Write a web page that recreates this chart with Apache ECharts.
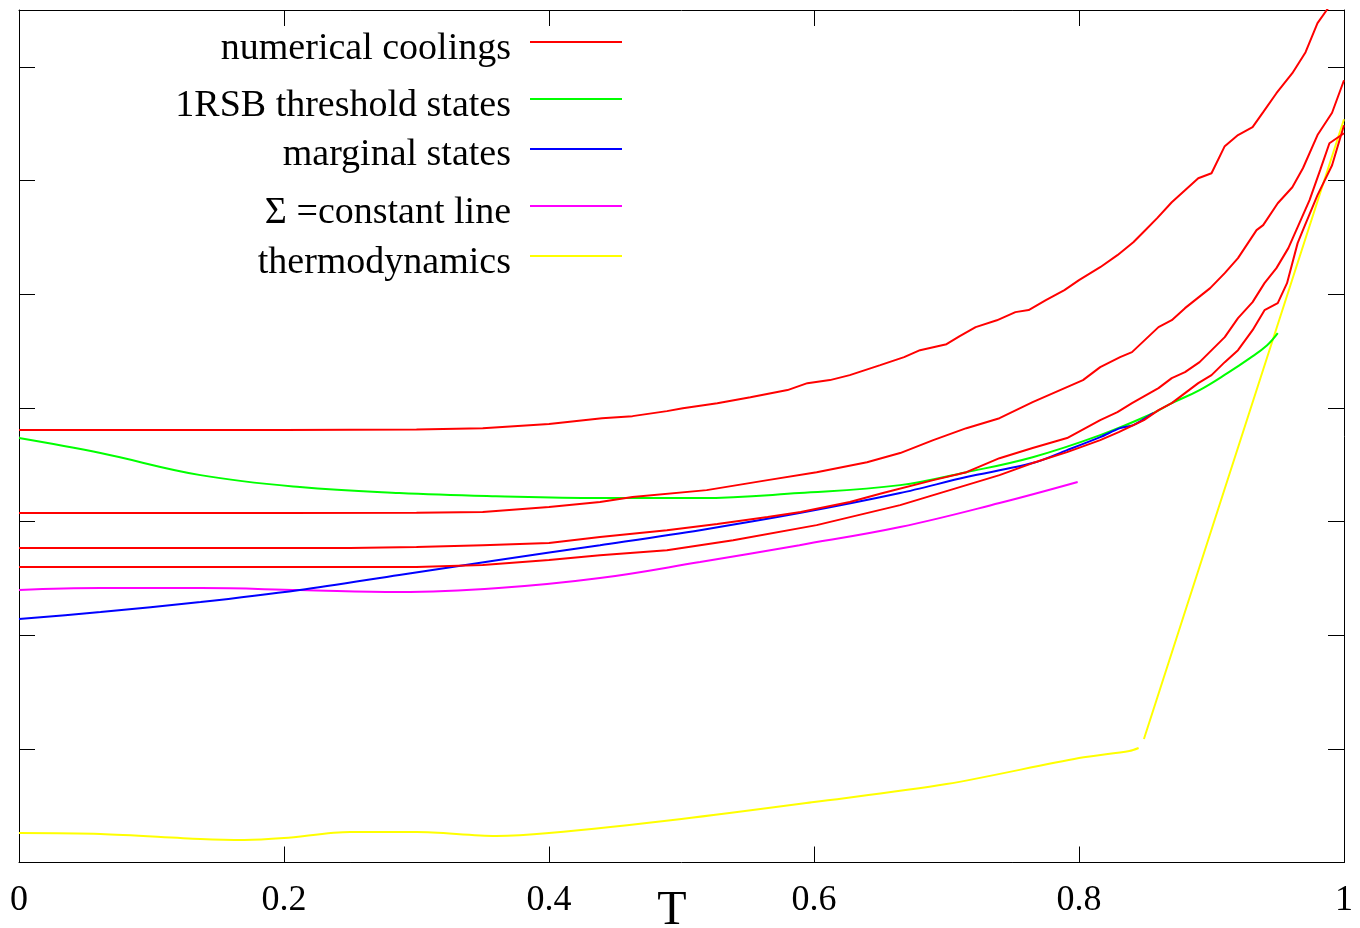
<!DOCTYPE html>
<html>
<head>
<meta charset="utf-8">
<title>Energy vs T</title>
<script src="https://cdn.jsdelivr.net/npm/echarts@6/dist/echarts.min.js"></script>
<style>
  html, body { margin: 0; padding: 0; background: #fff; }
  #chart { width: 1360px; height: 928px; }
</style>
</head>
<body>
<div id="chart"></div>
<script>
// Temperature axis ticks
const tTicks = [0, 0.2, 0.4, 0.6, 0.8, 1];

// Numerical coolings (four runs), [T, E] pairs
const cooling1 = [
  [0, 3.804], [0.1, 3.804], [0.2, 3.804], [0.3, 3.81], [0.35, 3.821], [0.4, 3.857],
  [0.44, 3.909], [0.463, 3.927], [0.489, 3.971], [0.501, 3.997], [0.527, 4.041],
  [0.552, 4.094], [0.58, 4.156], [0.595, 4.217], [0.612, 4.244], [0.627, 4.288],
  [0.65, 4.376], [0.668, 4.446], [0.68, 4.507], [0.70, 4.56], [0.71, 4.631],
  [0.722, 4.71], [0.738, 4.77], [0.752, 4.842], [0.762, 4.86], [0.775, 4.947],
  [0.789, 5.035], [0.80, 5.123], [0.816, 5.237], [0.829, 5.343], [0.841, 5.457],
  [0.85, 5.563], [0.859, 5.669], [0.870, 5.809], [0.880, 5.915], [0.890, 6.020],
  [0.900, 6.064], [0.910, 6.302], [0.920, 6.40], [0.931, 6.47], [0.939, 6.601],
  [0.949, 6.768], [0.961, 6.944], [0.971, 7.129], [0.980, 7.384], [0.987, 7.5], [0.995, 7.62]
];
const cooling2 = [
  [0, 3.074], [0.2, 3.074], [0.3, 3.078], [0.35, 3.083], [0.4, 3.127], [0.4385, 3.171],
  [0.463, 3.215], [0.519, 3.276], [0.565, 3.364], [0.602, 3.434], [0.640, 3.522],
  [0.665, 3.602], [0.690, 3.716], [0.715, 3.821], [0.740, 3.909], [0.765, 4.050],
  [0.803, 4.244], [0.816, 4.358], [0.831, 4.446], [0.840, 4.490], [0.860, 4.710],
  [0.870, 4.771], [0.880, 4.877], [0.899, 5.053], [0.910, 5.185], [0.920, 5.317],
  [0.934, 5.563], [0.939, 5.607], [0.950, 5.800], [0.961, 5.941], [0.969, 6.108],
  [0.980, 6.40], [0.991, 6.596], [1.0, 6.882]
];
const cooling3 = [
  [0, 2.766], [0.25, 2.766], [0.3, 2.775], [0.35, 2.792], [0.4, 2.810], [0.4385, 2.863],
  [0.489, 2.924], [0.527, 2.977], [0.565, 3.039], [0.590, 3.083], [0.627, 3.171],
  [0.652, 3.250], [0.690, 3.364], [0.715, 3.434], [0.740, 3.557], [0.765, 3.646],
  [0.791, 3.734], [0.816, 3.892], [0.829, 3.962], [0.840, 4.041], [0.860, 4.173],
  [0.870, 4.261], [0.880, 4.314], [0.891, 4.402], [0.910, 4.622], [0.920, 4.789],
  [0.931, 4.930], [0.940, 5.097], [0.949, 5.229], [0.958, 5.405], [0.964, 5.563],
  [0.974, 5.827], [0.982, 6.091], [0.989, 6.328], [1.0, 6.416]
];
const cooling4 = [
  [0, 2.599], [0.3, 2.599], [0.35, 2.617], [0.4, 2.661], [0.4385, 2.704], [0.489, 2.748],
  [0.539, 2.836], [0.602, 2.968], [0.665, 3.144], [0.690, 3.232], [0.715, 3.320],
  [0.740, 3.408], [0.765, 3.514], [0.791, 3.610], [0.816, 3.716], [0.830, 3.786],
  [0.849, 3.892], [0.860, 3.980], [0.870, 4.041], [0.880, 4.129], [0.890, 4.217],
  [0.900, 4.288], [0.910, 4.402], [0.920, 4.507], [0.931, 4.683], [0.940, 4.859],
  [0.950, 4.921], [0.957, 5.097], [0.965, 5.449], [0.969, 5.563], [0.980, 5.871],
  [0.991, 6.134], [1.0, 6.486]
];

// 1RSB threshold states
const threshold = [
  [0, 3.734], [0.0615, 3.602], [0.137, 3.408], [0.212, 3.303], [0.287, 3.250],
  [0.36, 3.222], [0.4385, 3.206], [0.514, 3.206], [0.589, 3.250], [0.665, 3.320],
  [0.715, 3.434], [0.765, 3.566], [0.816, 3.760], [0.856, 3.953], [0.870, 4.041],
  [0.891, 4.156], [0.912, 4.305], [0.929, 4.437], [0.942, 4.551], [0.950, 4.657]
];

// Marginal states
const marginal = [
  [0, 2.142], [0.0615, 2.203], [0.137, 2.291], [0.212, 2.397], [0.287, 2.529],
  [0.362, 2.661], [0.4385, 2.792], [0.514, 2.924], [0.589, 3.074], [0.665, 3.250],
  [0.715, 3.391], [0.765, 3.514], [0.791, 3.628], [0.816, 3.742], [0.831, 3.821],
  [0.841, 3.848], [0.856, 3.953]
];

// Sigma = constant line
const sigmaConst = [
  [0, 2.397], [0.0615, 2.414], [0.137, 2.414], [0.212, 2.397], [0.287, 2.379],
  [0.362, 2.414], [0.4385, 2.502], [0.514, 2.643], [0.589, 2.792], [0.665, 2.951],
  [0.740, 3.162], [0.799, 3.347]
];

// Thermodynamics (two branches, separated by a gap)
const thermo = [
  [0, 0.259], [0.0615, 0.251], [0.137, 0.207], [0.17, 0.198], [0.2, 0.215],
  [0.25, 0.268], [0.3, 0.268], [0.36, 0.233], [0.4, 0.259], [0.5, 0.383],
  [0.6, 0.532], [0.7, 0.690], [0.8, 0.919], [0.838, 0.981], [0.845, 1.007],
  [0.847, null],
  [0.849, 1.086], [1.0, 6.539]
];

const legendRows = [
  { text: 'numerical coolings', color: '#ff0000', y: 42, ty: 49 },
  { text: '1RSB threshold states', color: '#00ff00', y: 99, ty: 106 },
  { text: 'marginal states', color: '#0000ff', y: 149, ty: 155 },
  { text: '\u03A3 =constant line', color: '#ff00ff', y: 206, ty: 213 },
  { text: 'thermodynamics', color: '#ffff00', y: 256, ty: 263 }
];

const FONT = "'Liberation Serif', 'Times New Roman', serif";
const chart = echarts.init(document.getElementById('chart'), null, { renderer: 'canvas' });

function lineSeries(data, color, smooth) {
  return {
    type: 'line',
    data: data,
    showSymbol: false,
    symbol: 'none',
    smooth: smooth || false,
    connectNulls: false,
    clip: true,
    lineStyle: { color: color, width: 2 },
    emphasis: { disabled: true },
    z: 3
  };
}

const frameLine = { show: true, onZero: false, lineStyle: { color: '#000', width: 1 } };
const innerTick = { show: true, inside: true, length: 16, lineStyle: { color: '#000', width: 1 } };

const graphics = [];
legendRows.forEach(r => {
  graphics.push({
    type: 'text', x: 511, y: r.ty,
    style: { text: r.text, font: '38px ' + FONT, fill: '#000', align: 'right', verticalAlign: 'middle' }
  });
  graphics.push({
    type: 'line',
    shape: { x1: 530, y1: r.y, x2: 622, y2: r.y },
    style: { stroke: r.color, lineWidth: 2 }
  });
});

chart.setOption({
  animation: false,
  backgroundColor: '#fff',
  grid: { left: 19, top: 10, right: 16, bottom: 65.5, containLabel: false, outerBoundsMode: 'none' },
  xAxis: [
    {
      type: 'value', position: 'bottom', min: tTicks[0], max: tTicks[tTicks.length - 1], interval: 0.2,
      axisLine: frameLine, axisTick: innerTick, splitLine: { show: false },
      axisLabel: { show: true, margin: 20, color: '#000', fontFamily: FONT, fontSize: 36 },
      name: 'T', nameLocation: 'middle', nameGap: 25, nameMoveOverlap: false,
      nameTextStyle: { color: '#000', fontFamily: FONT, fontSize: 48, padding: [0, 19, 0, 0] }
    },
    {
      type: 'value', position: 'top', min: 0, max: 1, interval: 0.2,
      axisLine: frameLine, axisTick: innerTick, splitLine: { show: false },
      axisLabel: { show: false }
    }
  ],
  yAxis: [
    {
      type: 'value', position: 'left', min: 0, max: 7.5, interval: 1,
      axisLine: frameLine, axisTick: innerTick, splitLine: { show: false },
      axisLabel: { show: false }
    },
    {
      type: 'value', position: 'right', min: 0, max: 7.5, interval: 1,
      axisLine: frameLine, axisTick: innerTick, splitLine: { show: false },
      axisLabel: { show: false }
    }
  ],
  series: [
    lineSeries(thermo, '#ffff00', 0.3),
    lineSeries(sigmaConst, '#ff00ff', 0.4),
    lineSeries(threshold, '#00ff00', 0.4),
    lineSeries(marginal, '#0000ff', 0.3),
    lineSeries(cooling1, '#ff0000'),
    lineSeries(cooling2, '#ff0000'),
    lineSeries(cooling3, '#ff0000'),
    lineSeries(cooling4, '#ff0000')
  ],
  graphic: graphics
});
</script>
</body>
</html>
